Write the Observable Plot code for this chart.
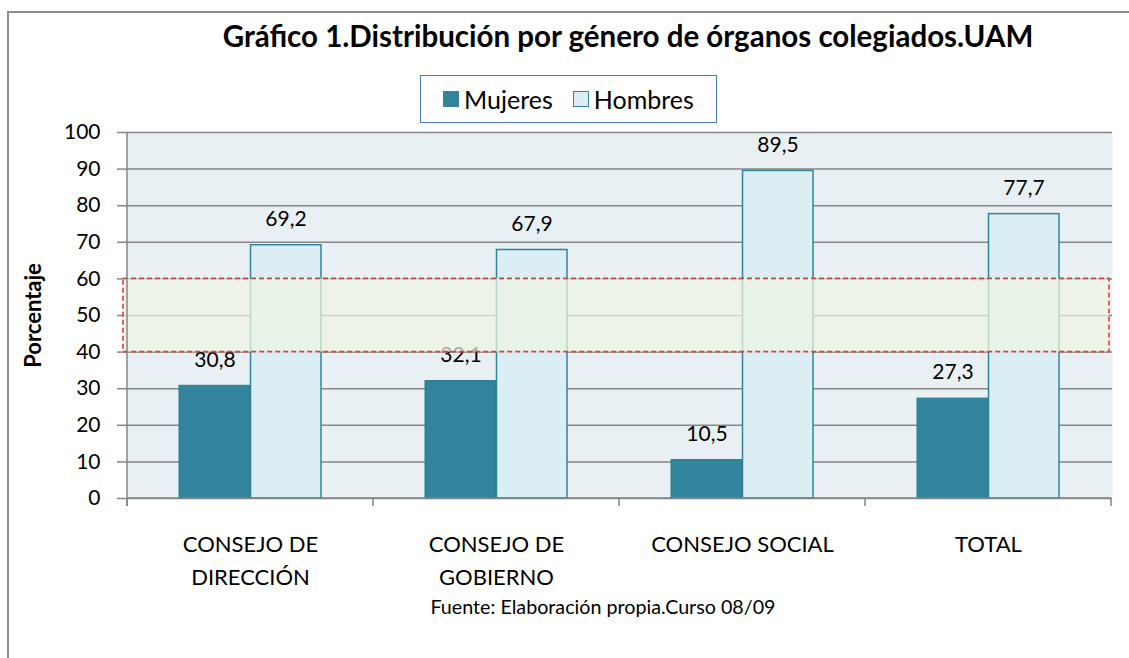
<!DOCTYPE html>
<html>
<head>
<meta charset="utf-8">
<script src="https://cdn.jsdelivr.net/npm/d3@7"></script>
<script src="https://cdn.jsdelivr.net/npm/@observablehq/plot@0.6"></script>
<style>
  body { margin: 0; background: #ffffff; font-family: Lato, "Open Sans", sans-serif; }
  #wrap { position: relative; width: 1129px; height: 658px; overflow: hidden; }
  #frame { position: absolute; left: 7px; top: 11px; width: 1160px; height: 700px; border: 2px solid #8c8c8c; box-sizing: border-box; }
  #title { position: absolute; left: 128px; width: 1000px; top: 18px; text-align: center; font-weight: bold; font-size: 29.5px; line-height: 1.2; color: #000; white-space: nowrap; }
  #legend { position: absolute; left: 420px; top: 75px; width: 297px; height: 48px; box-sizing: border-box; border: 1.5px solid #4a7ebb; background: #fff;
            display: flex; align-items: center; justify-content: center; gap: 20px; font-size: 25px; color: #000; }
  .item { display: flex; align-items: center; gap: 5px; }
  .sw { width: 16px; height: 16px; box-sizing: border-box; display: inline-block; }
  #chart { position: absolute; left: 0; top: 105px; }
  #caption { position: absolute; left: 353px; width: 500px; top: 595px; text-align: center; font-size: 19.7px; color: #000; white-space: nowrap; }
</style>
</head>
<body>
<div id="wrap">
  <div id="frame"></div>
  <div id="chart"></div>
  <div id="title"></div>
  <div id="legend"></div>
  <div id="caption"></div>
</div>
<script>
const titleText = "Gráfico 1.Distribución por género de órganos colegiados.UAM";
const captionText = "Fuente: Elaboración propia.Curso 08/09";
const yLabel = "Porcentaje";
const categories = ["CONSEJO DE DIRECCIÓN", "CONSEJO DE GOBIERNO", "CONSEJO SOCIAL", "TOTAL"];
const categoryLabels = ["CONSEJO DE\nDIRECCIÓN", "CONSEJO DE\nGOBIERNO", "CONSEJO SOCIAL", "TOTAL"];
const series = ["Mujeres", "Hombres"];
const mujeres = [30.8, 32.1, 10.5, 27.3];
const hombres = [69.2, 67.9, 89.5, 77.7];
const yTicks = [0, 10, 20, 30, 40, 50, 60, 70, 80, 90, 100];
const bandRange = [40, 60];

const colors = { Mujeres: "#31849b", Hombres: "#daeef3" };
const edge = "#31849b";

document.getElementById("title").textContent = titleText;
document.getElementById("caption").textContent = captionText;

const legend = document.getElementById("legend");
series.forEach(s => {
  const it = document.createElement("div");
  it.className = "item";
  const sw = document.createElement("span");
  sw.className = "sw";
  sw.style.background = colors[s];
  if (s === "Hombres") sw.style.border = "1.5px solid " + edge;
  const tx = document.createElement("span");
  tx.textContent = s;
  it.appendChild(sw); it.appendChild(tx);
  legend.appendChild(it);
});

const rows = categories.map((c, i) => ({ cat: c, Mujeres: mujeres[i], Hombres: hombres[i] }));
const fmt = v => v.toFixed(1).replace(".", ",");
const labelOf = new Map(categories.map((c, i) => [c, categoryLabels[i]]));

const W = 1129, H = 485;
const chart = Plot.plot({
  width: W,
  height: H,
  marginLeft: 126,
  marginRight: 17,
  marginTop: 27,
  marginBottom: 92,
  style: { fontFamily: "Lato, 'Open Sans', sans-serif", fontSize: "21px", color: "#000", background: "transparent" },
  x: { domain: categories, padding: 0, axis: null },
  y: { domain: [0, 100], axis: null },
  marks: [
    Plot.frame({ fill: "#e9f0f4", stroke: null }),
    Plot.gridY(yTicks, { stroke: "#868686", strokeOpacity: 1, strokeWidth: 1.5 }),
    Plot.axisY(yTicks, { tickSize: 9, tickPadding: 17, stroke: "#868686", strokeWidth: 1.5, fontSize: 21, fill: "#000", label: null }),
    Plot.axisX({ tickSize: 0, tickPadding: 30, tickFormat: c => labelOf.get(c), fontSize: 22, lineHeight: 1.5, fill: "#000", label: null }),
    Plot.barY(rows, { x: "cat", y: "Mujeres", fill: colors.Mujeres, stroke: "#2d7c91", strokeWidth: 1, insetLeft: 52, insetRight: 123.5 }),
    Plot.barY(rows, { x: "cat", y: "Hombres", fill: colors.Hombres, stroke: edge, strokeWidth: 1.5, insetLeft: 123.5, insetRight: 52 }),
    Plot.text(rows, { x: "cat", y: "Mujeres", text: d => fmt(d.Mujeres), dx: -35.5, dy: -26, fontSize: 21, fill: "#000" }),
    Plot.text(rows, { x: "cat", y: "Hombres", text: d => fmt(d.Hombres), dx: 35.5, dy: -26, fontSize: 21, fill: "#000" }),
    Plot.rect([{ lo: bandRange[0], hi: bandRange[1] }], { y1: "lo", y2: "hi", fill: "#eef4e0", fillOpacity: 0.72, stroke: "#d7403f", strokeWidth: 1.6, strokeDasharray: "5,3", insetLeft: -3, insetRight: 3 }),
    Plot.text([yLabel], { frameAnchor: "left", dx: -93, rotate: -90, textAnchor: "middle", lineAnchor: "middle", fontWeight: "bold", fontSize: 22, fill: "#000" })
  ]
});

// axis line and category boundary ticks from the plot's own scales
const xs = chart.scale("x"), ys = chart.scale("y");
const y0 = ys.apply(0), yTop = ys.apply(100);
const bounds = categories.map(c => xs.apply(c));
bounds.push(xs.apply(categories[categories.length - 1]) + xs.bandwidth);
const g = d3.select(chart).append("g").attr("stroke", "#868686").attr("stroke-width", 1.5);
g.selectAll("line.t").data(bounds).join("line").attr("class", "t")
  .attr("x1", d => d).attr("x2", d => d).attr("y1", y0).attr("y2", y0 + 8);
g.append("line").attr("x1", bounds[0]).attr("x2", bounds[0]).attr("y1", yTop).attr("y2", y0 + 8);
g.append("line").attr("x1", bounds[0]).attr("x2", bounds[bounds.length - 1]).attr("y1", y0).attr("y2", y0);

document.getElementById("chart").appendChild(chart);
</script>
</body>
</html>
